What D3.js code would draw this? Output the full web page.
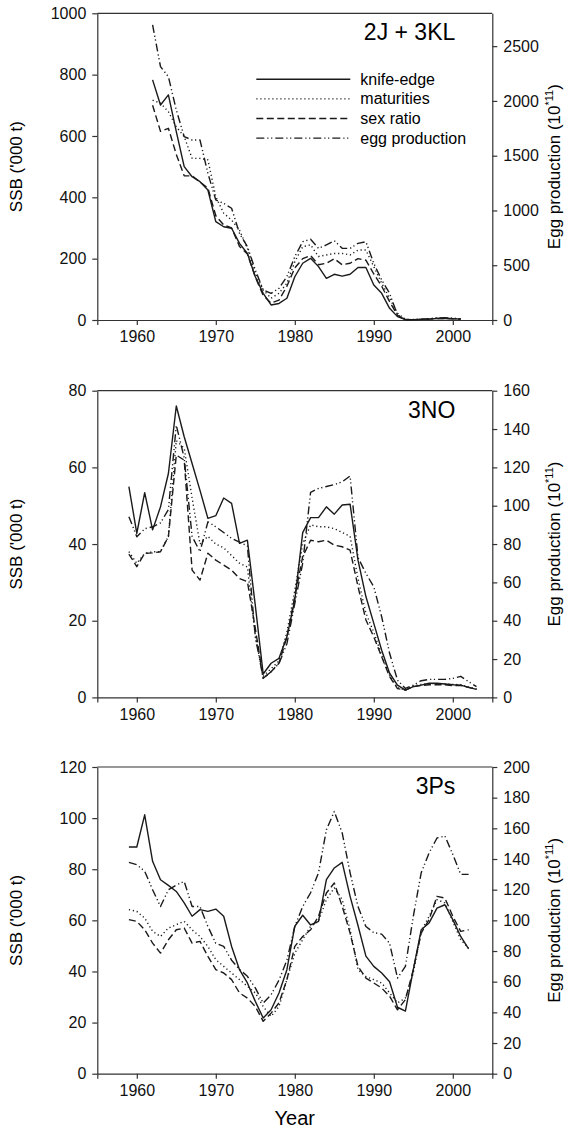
<!DOCTYPE html>
<html>
<head>
<meta charset="utf-8">
<script src="https://d3js.org/d3.v7.min.js"></script>
<style>
  body { margin: 0; background: #fff; }
  svg { display: block; font-family: "Liberation Sans", Arial, sans-serif; }
</style>
</head>
<body>
<svg width="578" height="1129"></svg>
<script>
// 2J + 3KL
var years1 = [1962,1963,1964,1965,1966,1967,1968,1969,1970,1971,1972,1973,1974,1975,1976,1977,1978,1979,1980,1981,
              1982,1983,1984,1985,1986,1987,1988,1989,1990,1991,1992,1993,1994,1995,1996,1997,1998,1999,2000,2001];
var knife1 = [783,701,734,614,500,467,451,424,321,304,299,250,217,141,87,49,54,71,141,185,
              201,174,136,149,143,149,171,171,114,87,38,11,1,1,2,3,5,5,4,3];
var mat1   = [717,707,679,630,598,527,527,522,402,348,326,293,234,152,98,71,87,120,190,239,
              245,207,212,217,217,212,228,228,174,120,71,22,2,1,2,4,6,6,5,4];
var sex1   = [700,615,625,540,470,470,450,430,340,310,300,240,215,140,80,55,65,110,170,200,
              210,180,185,200,180,185,200,195,150,110,60,15,2,1,2,3,5,5,4,3];
var egg1   = [2694,2313,2221,1917,1674,1643,1643,1339,1096,1065,1020,791,670,457,274,243,289,396,578,715,
              737,654,685,724,654,654,700,715,517,365,243,46,3,4,8,12,18,20,15,12];

// 3NO
var years2 = [1959,1960,1961,1962,1963,1964,1965,1966,1967,1968,1969,1970,1971,1972,1973,1974,1975,1976,1977,1978,
              1979,1980,1981,1982,1983,1984,1985,1986,1987,1988,1989,1990,1991,1992,1993,1994,1995,1996,1997,1998,
              1999,2000,2001,2002,2003];
var knife2 = [55,42.8,53.4,43.7,49.7,58.4,76,68,61,54,46.7,47.4,52,50.6,40.2,41,24,6.1,8.9,10.2,
              15.8,25.4,43,46.9,46.9,49.7,47.8,50.2,50.4,35.8,26.3,19.3,12.3,6.3,3.2,1.9,2.8,3.2,3.7,3.7,
              3.5,3.3,3.2,2.6,2.1];
var mat2   = [38,35,37.5,38,38,42,67,65,52,40,42,40,39,37,35,34,16,5.5,7.5,9.5,
              17,28,40,45,44.5,44.5,44,43,42,31,22,17,11,5.8,2.5,1.9,3,3.4,3.6,3.6,
              3.5,3.4,3.3,2.7,2.2];
var sex2   = [37.4,34.1,37.6,37.7,38,41.9,63.2,61.9,33.2,30.6,37.6,35.8,34.5,33.2,31,30.2,18,5,6.7,8.9,
              15.8,26.3,36.7,41,40.6,41,39.7,39.3,38.4,28.9,20.2,15.8,10.6,5.4,2.3,1.9,2.8,3.1,3.3,3.3,
              3.3,3.1,3.1,2.6,2.1];
var egg2   = [94.3,83.8,88,89,91,98,142,125,84,76,91.6,89,86,83,81,79,31.7,9.9,13.4,17.7,
              28,49,70,107,109,110,111,112.5,115.5,73,64.7,57.7,42,23,9,4.7,6.4,8.7,9.4,9.4,
              9.4,9.9,11,8.2,5.6];

// 3Ps
var years3 = [1959,1960,1961,1962,1963,1964,1965,1966,1967,1968,1969,1970,1971,1972,1973,1974,1975,1976,1977,1978,
              1979,1980,1981,1982,1983,1984,1985,1986,1987,1988,1989,1990,1991,1992,1993,1994,1995,1996,1997,1998,
              1999,2000,2001,2002];
var knife3 = [88.7,88.7,101.3,83.1,75.9,73.7,71.3,66.8,61.6,64.2,63.5,64.4,61.6,49.8,40.7,35.5,28.3,21.8,25,31.6,
              40.7,57.7,62,58.2,59.6,75.9,80.5,82.7,69.4,58,46,42,39.4,36,26,24.5,40.7,56.3,59,64.8,
              66.1,60.3,53.7,48.8];
var mat3   = [64.2,63.5,60.9,55.7,53.7,57,58.3,59.6,56.3,53.7,49.8,44.6,42,39.4,36.8,34.2,31.6,26.3,22.4,26.3,
              36.8,47.2,52.4,57.7,59.6,68.1,72.7,68.1,56.3,40.7,38,36.8,35.5,31.6,27.7,29.6,39.4,55.7,61.6,68.1,
              66.8,59.6,52.4,49.2];
var sex3   = [60.3,59.6,56.3,51.1,47.2,52.4,56.3,57,51.1,51.8,45.9,40.7,39.4,36.8,31.6,29.6,26.3,20.5,23.7,27.7,
              36.8,49.8,53.7,56.3,61.6,70.7,74.6,65.5,55,42,37.4,35.5,33.5,30.3,25,29,40.7,55,60.3,69.4,
              68.7,61.6,55.7,56.3];
var egg3   = [137.8,136.3,132,120,109,120,123,125.4,109,109,96,85,83,74,68,63.5,56,46,51.5,61,
              74,96,109,118,131,159,171,157,131,109,96,92,91,85,62.4,70,102.6,131,144,153.7,
              155,143,130,130];

var yearTicks = [1960, 1970, 1980, 1990, 2000];
var ssbTicks1 = [0, 200, 400, 600, 800, 1000];
var ssbTicks2 = [0, 20, 40, 60, 80];
var ssbTicks3 = [0, 20, 40, 60, 80, 100, 120];
var eggTicks1 = [0, 500, 1000, 1500, 2000, 2500];
var eggTicks2 = [0, 20, 40, 60, 80, 100, 120, 140, 160];
var eggTicks3 = [0, 20, 40, 60, 80, 100, 120, 140, 160, 180, 200];
var eggTop = [2800, 160, 200];
var stockLabels = ["2J + 3KL", "3NO", "3Ps"];
var seriesNames = ["knife-edge", "maturities", "sex ratio", "egg production"];
var seriesDash = ["none", "1.2,2.8", "7,3.5", "8,3,1.2,2.6,1.2,3"];

var panels = [
  {label: stockLabels[0], years: years1, series: [knife1, mat1, sex1, egg1], ssbTicks: ssbTicks1, eggTicks: eggTicks1, eggMax: eggTop[0]},
  {label: stockLabels[1], years: years2, series: [knife2, mat2, sex2, egg2], ssbTicks: ssbTicks2, eggTicks: eggTicks2, eggMax: eggTop[1]},
  {label: stockLabels[2], years: years3, series: [knife3, mat3, sex3, egg3], ssbTicks: ssbTicks3, eggTicks: eggTicks3, eggMax: eggTop[2]}
];

var svg = d3.select("svg"),
    left = 97.3,
    plotW = 395,
    plotH = 306.7,
    tops = [13.3, 390.7, 767],
    fmt = d3.format("d");

var x = d3.scaleLinear().domain([1955, 2005]).range([0, plotW]);

panels.forEach(function(p, i) {
  var g = svg.append("g").attr("transform", "translate(" + left + "," + tops[i] + ")");

  var y = d3.scaleLinear().domain([0, d3.max(p.ssbTicks)]).range([plotH, 0]);
  var y2 = d3.scaleLinear().domain([0, p.eggMax]).range([plotH, 0]);

  // frame top
  g.append("line")
      .attr("x1", 0).attr("x2", plotW)
      .attr("y1", 0).attr("y2", 0)
      .attr("stroke", "#333").attr("stroke-width", 1.2);

  g.append("g")
      .attr("class", "axis")
      .attr("transform", "translate(0," + plotH + ")")
      .call(d3.axisBottom(x).tickValues(yearTicks).tickFormat(fmt).tickSize(5).tickPadding(6));

  g.append("g")
      .attr("class", "axis")
      .call(d3.axisLeft(y).tickValues(p.ssbTicks).tickFormat(fmt).tickSize(5).tickPadding(6).tickSizeOuter(0));

  g.append("g")
      .attr("class", "axis")
      .attr("transform", "translate(" + plotW + ",0)")
      .call(d3.axisRight(y2).tickValues(p.eggTicks).tickFormat(fmt).tickSize(5).tickPadding(6).tickSizeOuter(0));

  g.selectAll(".axis path, .axis line").attr("stroke", "#333").attr("stroke-width", 1.2);
  g.selectAll(".axis text").attr("font-size", 16).attr("fill", "#111")
      .attr("font-family", "'Liberation Sans', Arial, sans-serif");

  p.series.forEach(function(vals, k) {
    var sc = k === 3 ? y2 : y;
    var line = d3.line()
        .x(function(d, j) { return x(p.years[j]); })
        .y(function(d) { return sc(d); });
    g.append("path")
        .datum(vals)
        .attr("fill", "none")
        .attr("stroke", "#1a1a1a")
        .attr("stroke-width", 1.4)
        .attr("stroke-dasharray", seriesDash[k])
        .attr("stroke-linejoin", "round")
        .attr("d", line);
  });

  g.append("text")
      .attr("x", 358)
      .attr("y", 27)
      .attr("text-anchor", "end")
      .attr("font-size", 23)
      .text(p.label);

  svg.append("text")
      .attr("transform", "translate(22," + (tops[i] + plotH / 2) + ") rotate(-90)")
      .attr("text-anchor", "middle")
      .attr("font-size", 17)
      .text("SSB ('000 t)");

  var et = svg.append("text")
      .attr("transform", "translate(560," + (tops[i] + plotH / 2) + ") rotate(-90)")
      .attr("text-anchor", "middle")
      .attr("font-size", 17);
  et.append("tspan").text("Egg production (10");
  et.append("tspan").attr("font-size", 11).attr("dy", -7).text("*11");
  et.append("tspan").attr("dy", 7).text(")");

  if (i === 0) {
    var lg = g.append("g").attr("transform", "translate(159,66)");
    seriesNames.forEach(function(name, k) {
      lg.append("line")
          .attr("x1", 0).attr("x2", 94)
          .attr("y1", k * 19.6).attr("y2", k * 19.6)
          .attr("stroke", "#1a1a1a")
          .attr("stroke-width", 1.4)
          .attr("stroke-dasharray", seriesDash[k]);
      lg.append("text")
          .attr("x", 104)
          .attr("y", k * 19.6)
          .attr("dy", "0.35em")
          .attr("font-size", 16)
          .text(name);
    });
  }
});

svg.append("text")
    .attr("x", left + plotW / 2)
    .attr("y", 1125)
    .attr("text-anchor", "middle")
    .attr("font-size", 20)
    .text("Year");
</script>
</body>
</html>
